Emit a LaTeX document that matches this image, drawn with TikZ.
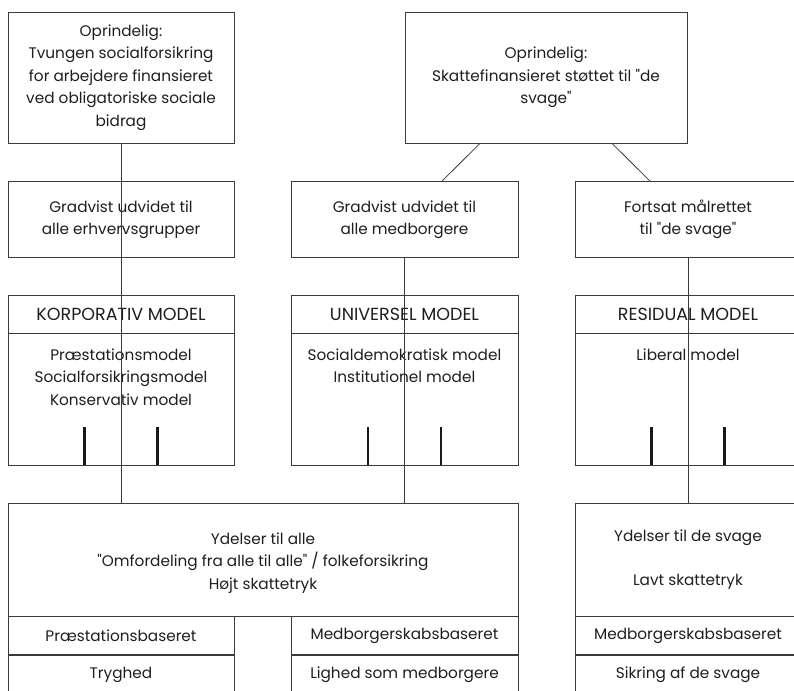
\documentclass[tikz,border=0pt]{standalone}
\usepackage{fontspec}
\setmainfont{Poppins}[Ligatures=TeXOff]
\usetikzlibrary{calc}
\definecolor{linec}{HTML}{3A3A3A}
\definecolor{txt}{HTML}{1E1E1E}
\newcommand{\fs}{\fontsize{15.3}{22.5}\selectfont}
\newcommand{\fh}{\fontsize{17.5}{22.5}\selectfont}
\begin{document}
\begin{tikzpicture}[x=1pt,y=-1pt,
  box/.style={draw=linec, line width=0.8pt, rectangle, inner sep=0pt, align=center, font=\fs, text=txt},
  hbox/.style={box, font=\fh},
  plain/.style={inner sep=0pt, align=center, font=\fs, text=txt},
  conn/.style={draw=linec, line width=0.8pt},
  tickline/.style={draw=black!90, line width=2.3pt}]
\useasboundingbox (0,0) rectangle (794,690);
\clip (0,0) rectangle (794,690);
% top boxes
\node[box, minimum width=226pt, minimum height=131pt] (tl) at (121,77.5)
  {Oprindelig:\\Tvungen socialforsikring\\for arbejdere finansieret\\ved obligatoriske sociale\\bidrag};
\node[box, minimum width=282pt, minimum height=131pt] (tr) at (546,77.5)
  {Oprindelig:\\Skattefinansieret støttet til "de\\svage"};
% second row
\node[box, minimum width=226pt, minimum height=76pt] (g1) at (121,219.5)
  {Gradvist udvidet til\\alle erhvervsgrupper};
\node[box, minimum width=227pt, minimum height=76pt] (g2) at (404.5,219.5)
  {Gradvist udvidet til\\alle medborgere};
\node[box, minimum width=226pt, minimum height=76pt] (g3) at (688,219.5)
  {Fortsat målrettet\\til "de svage"};
% model headers
\node[hbox, minimum width=226pt, minimum height=38pt] (m1h) at (121,314) {KORPORATIV MODEL};
\node[hbox, minimum width=227pt, minimum height=38pt] (m2h) at (404.5,314) {UNIVERSEL MODEL};
\node[hbox, minimum width=226pt, minimum height=38pt] (m3h) at (688,314) {RESIDUAL MODEL};
% model bodies
\node[box, minimum width=226pt, minimum height=132pt] (m1b) at (121,399) {};
\node[box, minimum width=227pt, minimum height=132pt] (m2b) at (404.5,399) {};
\node[box, minimum width=226pt, minimum height=132pt] (m3b) at (688,399) {};
\node[plain, anchor=north] (m1t) at ($(m1b.north)+(0,16)$)
  {Præstationsmodel\\Socialforsikringsmodel\\Konservativ model};
\node[plain, anchor=north] (m2t) at ($(m2b.north)+(0,16)$)
  {Socialdemokratisk model\\Institutionel model};
\node[plain, anchor=north] (m3t) at ($(m3b.north)+(0,16)$)
  {Liberal model};
% bottom boxes
\node[box, minimum width=510pt, minimum height=113.7pt] (big) at (263,559.8) {};
\node[plain] (bigt) at ($(big.center)+(0,3)$)
  {Ydelser til alle\\"Omfordeling fra alle til alle" / folkeforsikring\\Højt skattetryk};
\node[box, minimum width=226pt, minimum height=113.7pt] (rb) at (688,559.8)
  {Ydelser til de svage\\[22pt]Lavt skattetryk};
% sub rows
\node[box, minimum width=226pt, minimum height=37.6pt] (s1a) at (121,635.5) {Præstationsbaseret};
\node[box, minimum width=227pt, minimum height=37.6pt] (s2a) at (404.5,635.5) {Medborgerskabsbaseret};
\node[box, minimum width=226pt, minimum height=37.6pt] (s3a) at (688,635.5) {Medborgerskabsbaseret};
\node[box, minimum width=226pt, minimum height=37.6pt] (s1b) at (121,674.5) {Tryghed};
\node[box, minimum width=227pt, minimum height=37.6pt] (s2b) at (404.5,674.5) {Lighed som medborgere};
\node[box, minimum width=226pt, minimum height=37.6pt] (s3b) at (688,674.5) {Sikring af de svage};
% connectors
\draw[conn] (tl.south) -- (tl.south |- big.north);
\draw[conn] (g2.south) -- (g2.south |- big.north);
\draw[conn] (g3.south) -- (rb.north);
\draw[conn] ($(tr.south)+(-66,0)$) -- ($(g2.north)+(37.5,0)$);
\draw[conn] ($(tr.south)+(66,0)$) -- ($(g3.north)+(-38,0)$);
% ticks
\foreach \m in {m1b,m2b,m3b}{
  \draw[tickline] ($(\m.south)+(-36.5,0)$) -- ++(0,-38.5);
  \draw[tickline] ($(\m.south)+(36.5,0)$) -- ++(0,-38.5);
}
\end{tikzpicture}
\end{document}
